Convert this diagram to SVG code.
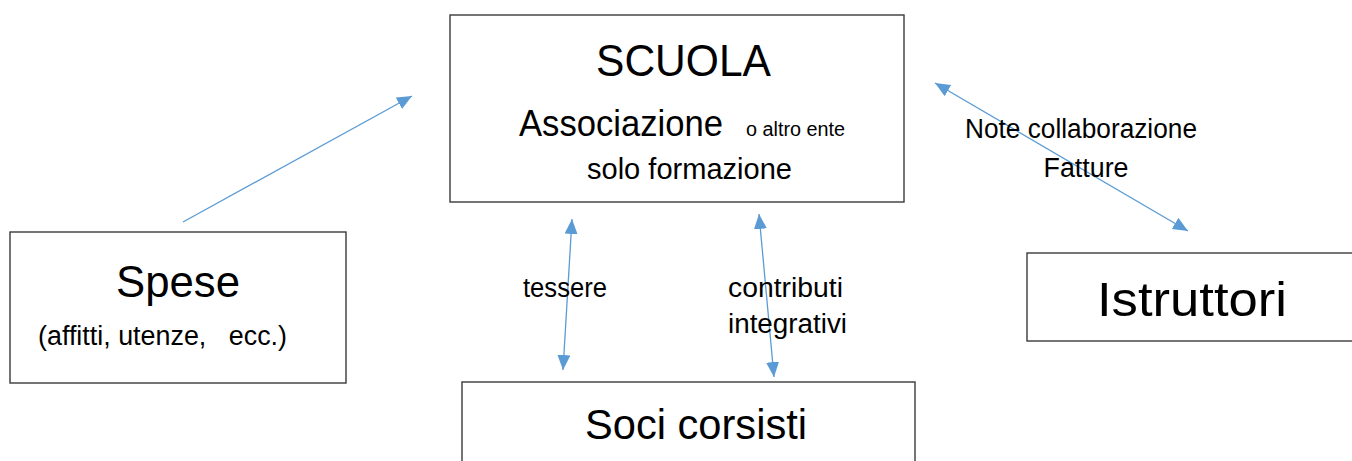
<svg xmlns="http://www.w3.org/2000/svg" width="1352" height="461" viewBox="0 0 1352 461">
<style>
.box{fill:#ffffff;stroke:#3a3a3a;stroke-width:1.4}
.t{font-family:"Liberation Sans",Arial,sans-serif;fill:#000000}
.conn{stroke:#5b9bd5;stroke-width:1.3;fill:none}
</style>
<defs>
<marker id="ah" markerUnits="userSpaceOnUse" markerWidth="16" markerHeight="14" refX="15" refY="6.5" orient="auto-start-reverse" viewBox="0 0 16 14">
<path d="M0,0 L15,6.5 L0,13 z" fill="#5b9bd5"/>
</marker>
</defs>
<rect width="1352" height="461" fill="#ffffff"/>
<g id="node-scuola">
<rect class="box" x="450" y="15" width="454" height="187"/>
<text class="t" x="596" y="76" font-size="44" textLength="175" lengthAdjust="spacingAndGlyphs">SCUOLA</text>
<text class="t" x="519" y="136" font-size="36" textLength="204" lengthAdjust="spacingAndGlyphs">Associazione</text>
<text class="t" x="746" y="136" font-size="20" textLength="99" lengthAdjust="spacingAndGlyphs">o altro ente</text>
<text class="t" x="587" y="179" font-size="30" textLength="205" lengthAdjust="spacingAndGlyphs">solo formazione</text>
</g>
<g id="node-spese">
<rect class="box" x="10" y="232" width="336" height="151"/>
<text class="t" x="116" y="297" font-size="44" textLength="124" lengthAdjust="spacingAndGlyphs">Spese</text>
<text class="t" x="38" y="345" font-size="27" textLength="249" lengthAdjust="spacingAndGlyphs" xml:space="preserve">(affitti, utenze,   ecc.)</text>
</g>
<g id="node-istruttori">
<rect class="box" x="1027" y="253" width="340" height="88"/>
<text class="t" x="1097" y="316" font-size="48" textLength="190" lengthAdjust="spacingAndGlyphs">Istruttori</text>
</g>
<g id="node-soci">
<rect class="box" x="462" y="382" width="453" height="100"/>
<text class="t" x="585" y="439" font-size="43" textLength="222" lengthAdjust="spacingAndGlyphs">Soci corsisti</text>
</g>
<g id="connectors">
<line class="conn" x1="183" y1="222" x2="412" y2="96" marker-end="url(#ah)"/>
<line class="conn" x1="935" y1="83" x2="1188" y2="231" marker-start="url(#ah)" marker-end="url(#ah)"/>
<line class="conn" x1="572" y1="219" x2="563" y2="370" marker-start="url(#ah)" marker-end="url(#ah)"/>
<line class="conn" x1="759" y1="214" x2="774" y2="377" marker-start="url(#ah)" marker-end="url(#ah)"/>
</g>
<g id="labels">
<text class="t" x="1081" y="138" font-size="27" text-anchor="middle" textLength="232" lengthAdjust="spacingAndGlyphs">Note collaborazione</text>
<text class="t" x="1086" y="177" font-size="27" text-anchor="middle" textLength="85" lengthAdjust="spacingAndGlyphs">Fatture</text>
<text class="t" x="523" y="297" font-size="27" textLength="84" lengthAdjust="spacingAndGlyphs">tessere</text>
<text class="t" x="728" y="297" font-size="27" textLength="115" lengthAdjust="spacingAndGlyphs">contributi</text>
<text class="t" x="728" y="333" font-size="27" textLength="119" lengthAdjust="spacingAndGlyphs">integrativi</text>
</g>
</svg>
